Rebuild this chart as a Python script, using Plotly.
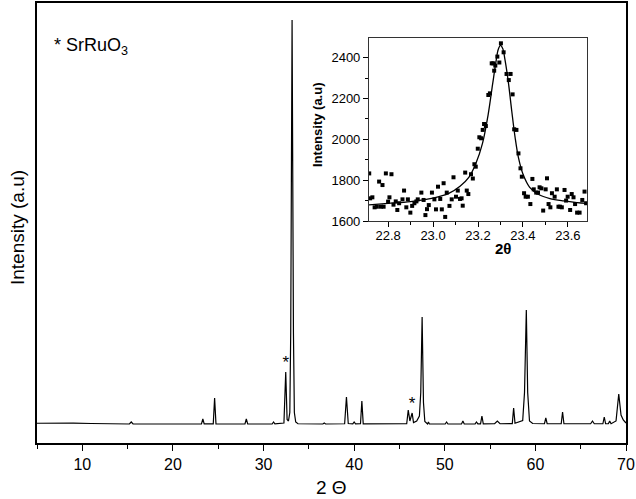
import plotly.graph_objects as go

# ---- Main XRD pattern (vertices) ----
pattern_2theta = [5.0, 7.0, 9.0, 11.0, 13.0, 15.2, 15.4, 15.6, 20.0,
                  23.15, 23.3, 23.45, 24.45, 24.6, 24.75, 27.95, 28.1, 28.25,
                  30.95, 31.1, 31.25, 32.25, 32.45, 32.6, 32.75, 32.9, 33.0, 33.15,
                  33.3, 33.4, 33.55, 33.8, 36.55, 36.7, 36.85, 38.95, 39.15, 39.35,
                  39.85, 40.0, 40.15, 40.7, 40.85, 41.0, 45.8, 45.97, 46.15, 46.4,
                  46.55, 46.9, 47.2, 47.35, 47.5, 47.65, 47.8, 48.1, 48.2, 48.3,
                  50.05, 50.2, 50.35, 51.85, 52.0, 52.15, 53.35, 53.5, 53.65,
                  53.95, 54.1, 54.25, 55.5, 55.8, 56.1, 57.45, 57.6, 57.75,
                  58.6, 58.8, 59.0, 59.15, 59.35, 59.7, 61.0, 61.15, 61.3,
                  62.85, 63.0, 63.15, 66.1, 66.3, 66.5, 67.45, 67.6, 67.75,
                  68.05, 68.2, 68.35, 68.9, 69.2, 69.45, 69.7, 70.0]
pattern_intensity = [1850, 1900, 1880, 1800, 1740, 1700, 2100, 1700, 1700,
                     1720, 2700, 1720, 1720, 6900, 1720, 1700, 2700, 1700,
                     1700, 2100, 1720, 1900, 12100, 2600, 2300, 4000, 20000, 82500,
                     20000, 4000, 2100, 1750, 1700, 1900, 1700, 1750, 7100, 1800,
                     1720, 2100, 1720, 1750, 6300, 1720, 1750, 4500, 2300, 3900,
                     2000, 2300, 3300, 8000, 23100, 6000, 2200, 1720, 2100, 1720,
                     1700, 2100, 1700, 1700, 2300, 1700, 1720, 2100, 1720,
                     1720, 3300, 1720, 1750, 2300, 1750, 1780, 4900, 1850,
                     2400, 8000, 24500, 8000, 2300, 1800, 1750, 2900, 1750,
                     1750, 4100, 1750, 1750, 2300, 1750, 1750, 3100, 1750,
                     1750, 2300, 1750, 2300, 7700, 3500, 2500, 1900]

star_2theta = [32.45, 46.4]
star_intensity = [12100, 3900]

# ---- Inset: measured points around the peak near 23.3 ----
inset_2theta = [22.716, 22.72, 22.73, 22.74, 22.75, 22.76, 22.768, 22.775, 22.78, 22.79,
                22.80, 22.806, 22.815, 22.824, 22.834, 22.841, 22.849, 22.864, 22.871, 22.881,
                22.888, 22.899, 22.907, 22.917, 22.926, 22.932, 22.948, 22.958, 22.966, 22.973,
                22.981, 22.995, 23.006, 23.013, 23.022, 23.032, 23.039, 23.047, 23.054, 23.061,
                23.073, 23.083, 23.091, 23.102, 23.110, 23.120, 23.127, 23.132, 23.143, 23.150,
                23.157, 23.169, 23.177, 23.184, 23.190, 23.199, 23.206, 23.214, 23.221, 23.227,
                23.235, 23.246, 23.253, 23.261, 23.268, 23.272, 23.277, 23.286, 23.295, 23.302,
                23.314, 23.327, 23.337, 23.345, 23.354, 23.361, 23.371, 23.380, 23.389, 23.395,
                23.405, 23.412, 23.422, 23.433, 23.442, 23.448, 23.459, 23.467, 23.474, 23.482,
                23.490, 23.501, 23.507, 23.514, 23.522, 23.529, 23.541, 23.551, 23.558, 23.565,
                23.573, 23.585, 23.592, 23.599, 23.610, 23.617, 23.625, 23.632, 23.641, 23.652,
                23.664, 23.674, 23.681]
inset_intensity = [1833, 1711, 1716, 1667, 1670, 1793, 1670, 1776, 1670, 1833,
                   1695, 1716, 1829, 1680, 1696, 1654, 1687, 1706, 1749, 1667,
                   1706, 1641, 1674, 1687, 1696, 1706, 1739, 1703, 1629, 1658,
                   1678, 1739, 1706, 1657, 1768, 1708, 1657, 1785, 1620, 1739,
                   1674, 1706, 1814, 1719, 1749, 1708, 1711, 1675, 1837, 1749,
                   1732, 1829, 1808, 1878, 1866, 1954, 2010, 2005, 2046, 2075,
                   2065, 2217, 2225, 2372, 2372, 2336, 2361, 2405, 2376, 2470,
                   2426, 2320, 2290, 2320, 2220, 2049, 2046, 1931, 1858, 1817,
                   1736, 1719, 1719, 1683, 1806, 1755, 1739, 1739, 1765, 1760,
                   1651, 1755, 1809, 1683, 1667, 1736, 1719, 1755, 1670, 1670,
                   1667, 1752, 1700, 1719, 1654, 1732, 1716, 1683, 1641, 1641,
                   1703, 1744, 1687]

# fitted curve
fit_2theta = [22.70, 22.80, 22.90, 23.00, 23.07, 23.12, 23.16, 23.19, 23.22, 23.245,
              23.265, 23.28, 23.29, 23.30, 23.31, 23.32, 23.335, 23.35, 23.365, 23.38,
              23.40, 23.43, 23.47, 23.52, 23.58, 23.64, 23.70]
fit_intensity = [1678, 1686, 1695, 1712, 1735, 1770, 1815, 1880, 1980, 2120,
                 2270, 2380, 2440, 2460, 2445, 2390, 2280, 2140, 2010, 1910,
                 1830, 1765, 1730, 1710, 1698, 1690, 1685]

main_ticks = [10, 20, 30, 40, 50, 60, 70]
inset_xticks = [22.8, 23.0, 23.2, 23.4, 23.6]
inset_yticks = [1600, 1800, 2000, 2200, 2400]

FONT = "Liberation Sans, Arial, sans-serif"

fig = go.Figure()
fig.add_trace(go.Scatter(x=pattern_2theta, y=pattern_intensity, mode="lines",
                         line=dict(color="black", width=1.2), showlegend=False,
                         xaxis="x", yaxis="y"))
fig.add_trace(go.Scatter(x=star_2theta, y=star_intensity, mode="text", text=["*", "*"],
                         textposition="top center", textfont=dict(size=17, color="black", family=FONT),
                         showlegend=False, xaxis="x", yaxis="y"))
fig.add_trace(go.Scatter(x=inset_2theta, y=inset_intensity, mode="markers",
                         marker=dict(symbol="square", size=4, color="black"),
                         showlegend=False, xaxis="x2", yaxis="y2"))
fig.add_trace(go.Scatter(x=fit_2theta, y=fit_intensity, mode="lines", line_shape="spline",
                         line=dict(color="black", width=1.3), showlegend=False,
                         xaxis="x2", yaxis="y2"))

fig.update_layout(
    template="none",
    width=636, height=499,
    margin=dict(l=0, r=0, t=0, b=0, autoexpand=False),
    paper_bgcolor="white", plot_bgcolor="white",
    font=dict(family=FONT, color="black"),
    xaxis=dict(domain=[37/636, 626/636], range=[5, 70], tickvals=main_ticks, automargin=False,
               ticks="outside", ticklen=6, tickwidth=1.3, tickcolor="black",
               minor=dict(dtick=5, tick0=5, ticks="outside", ticklen=4, tickcolor="black", tickwidth=1.2),
               showline=True, linecolor="black", linewidth=1.5, mirror=True,
               showgrid=False, zeroline=False, tickfont=dict(size=16, family=FONT)),
    yaxis=dict(domain=[1-443/499, 1-3/499], range=[-2100, 85900], automargin=False,
               showticklabels=False, ticks="",
               showline=True, linecolor="black", linewidth=1.5, mirror=True,
               showgrid=False, zeroline=False),
    xaxis2=dict(domain=[369/636, 587/636], range=[22.715, 23.685], anchor="y2", automargin=False,
                tickvals=inset_xticks, ticktext=[f"{v:.1f}" for v in inset_xticks],
                ticks="outside", ticklen=5, tickcolor="black", ticklabelstandoff=-3,
                minor=dict(dtick=0.1, tick0=22.7, ticks="outside", ticklen=3, tickcolor="black"),
                showline=True, linecolor="#333", linewidth=1.1, mirror=True,
                showgrid=False, zeroline=False, tickfont=dict(size=13, family=FONT)),
    yaxis2=dict(domain=[1-221/499, 1-38/499], range=[1600, 2496], anchor="x2", automargin=False,
                tickvals=inset_yticks, ticks="outside", ticklen=5, tickcolor="black",
                minor=dict(dtick=100, tick0=1600, ticks="outside", ticklen=3, tickcolor="black"),
                showline=True, linecolor="#333", linewidth=1.1, mirror=True,
                showgrid=False, zeroline=False, tickfont=dict(size=13, family=FONT)),
    annotations=[
        dict(text="2 Θ", xref="paper", yref="paper", x=331/636, y=1-487/499,
             showarrow=False, font=dict(size=19, family=FONT), xanchor="center", yanchor="middle"),
        dict(text="Intensity (a.u)", xref="paper", yref="paper", x=17/636, y=1-228/499,
             showarrow=False, textangle=-90, font=dict(size=19, family=FONT),
             xanchor="center", yanchor="middle"),
        dict(text="* SrRuO<sub>3</sub>", xref="paper", yref="paper", x=52/636, y=1-47/499,
             showarrow=False, font=dict(size=18, family=FONT), xanchor="left", yanchor="middle"),
        dict(text="<b>Intensity (a.u)</b>", xref="paper", yref="paper", x=318/636, y=1-125/499,
             showarrow=False, textangle=-90, font=dict(size=13, family=FONT),
             xanchor="center", yanchor="middle"),
        dict(text="<b>2θ</b>", xref="paper", yref="paper", x=503/636, y=1-248/499,
             showarrow=False, font=dict(size=15, family=FONT), xanchor="center", yanchor="middle"),
    ],
)

fig.write_html("out.html", config={"displayModeBar": False},
               post_script="document.body.style.margin='0';document.body.style.overflow='hidden';")
